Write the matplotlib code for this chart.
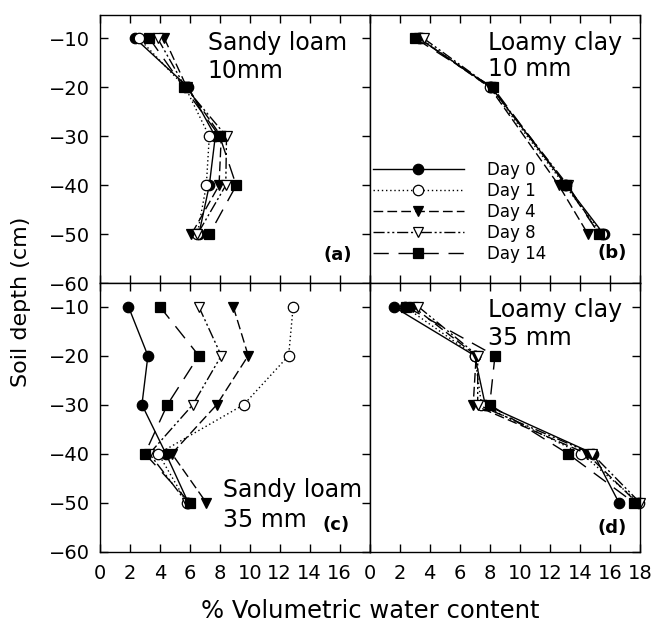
import matplotlib.pyplot as plt
import numpy as np

plt.rcParams['font.family'] = ['DejaVu Sans']

days = ["Day 0", "Day 1", "Day 4", "Day 8", "Day 14"]
depth = [-10, -20, -30, -40, -50]
depth_b = [-10, -20, -40, -50]

# Sandy loam, 10mm.
a_day0 = [2.35, 5.9, 7.7, 7.3, 6.6]
a_day1 = [2.6, 5.7, 7.3, 7.1, 6.5]
a_day4 = [4.3, 5.8, 8.1, 7.95, 6.1]
a_day8 = [3.85, 5.7, 8.45, 8.4, 6.5]
a_day14 = [3.3, 5.6, 8.0, 9.1, 7.3]

# Loamy clay, 10 mm (no -30 cm reading).
b_day0 = [3.3, 8.1, 13.1, 15.6]
b_day1 = [3.4, 8.0, 13.0, 15.5]
b_day4 = [3.3, 8.0, 12.6, 14.55]
b_day8 = [3.6, 8.1, 13.2, 15.3]
b_day14 = [3.05, 8.2, 13.1, 15.3]

# Sandy loam, 35 mm.
c_day0 = [1.9, 3.2, 2.8, 4.4, 5.9]
c_day1 = [12.9, 12.6, 9.6, 3.9, 5.8]
c_day4 = [8.9, 9.9, 7.8, 4.8, 7.1]
c_day8 = [6.6, 8.1, 6.2, 3.3, 5.8]
c_day14 = [4.0, 6.6, 4.5, 3.0, 6.0]

# Loamy clay, 35 mm.
d_day0 = [1.6, 7.0, 7.7, 14.9, 16.6]
d_day1 = [2.35, 7.0, 7.45, 14.1, 17.95]
d_day4 = [2.9, 7.1, 6.9, 14.45, 17.8]
d_day8 = [3.25, 7.2, 7.2, 14.8, 18.0]
d_day14 = [2.45, 8.35, 8.0, 13.2, 17.6]

x_ticks = [0, 2, 4, 6, 8, 10, 12, 14, 16, 18]
y_ticks = [-10, -20, -30, -40, -50, -60]

# Line / marker style per day.
styles = [
    dict(marker='o', mfc='black', dashes=()),
    dict(marker='o', mfc='white', dashes=(1, 2)),
    dict(marker='v', mfc='black', dashes=(7, 3)),
    dict(marker='v', mfc='white', dashes=(8, 2, 1.5, 2, 1.5, 2)),
    dict(marker='s', mfc='black', dashes=(11, 7)),
]

fig = plt.figure(figsize=(6.52, 6.32), dpi=100)

L, W1 = 100 / 652, 269.5 / 652
R, W2 = 369.5 / 652, 270.5 / 652
B, H = 80.3 / 632, 268.3 / 632

ax_a = fig.add_axes([L, B + H, W1, H])
ax_b = fig.add_axes([R, B + H, W2, H])
ax_c = fig.add_axes([L, B, W1, H])
ax_d = fig.add_axes([R, B, W2, H])

panels = [
    (ax_a, depth, [a_day0, a_day1, a_day4, a_day8, a_day14]),
    (ax_b, depth_b, [b_day0, b_day1, b_day4, b_day8, b_day14]),
    (ax_c, depth, [c_day0, c_day1, c_day4, c_day8, c_day14]),
    (ax_d, depth, [d_day0, d_day1, d_day4, d_day8, d_day14]),
]

for ax, dep, series in panels:
    for vals, st, name in zip(series, styles, days):
        line, = ax.plot(vals, dep, color='black', linewidth=1.0,
                        marker=st['marker'], markersize=7.5,
                        markerfacecolor=st['mfc'], markeredgecolor='black',
                        markeredgewidth=0.9, label=name, clip_on=False)
        if st['dashes']:
            line.set_dashes(st['dashes'])
    ax.set_xlim(0, 18)
    ax.set_ylim(-60, -5.25)
    ax.set_xticks(x_ticks)
    ax.set_yticks(y_ticks)
    for sp in ax.spines.values():
        sp.set_linewidth(1.0)
    ax.tick_params(direction='in', length=6, width=1.0, top=True, right=True,
                   labelsize=14)
    ax.tick_params(axis='x', pad=9)
    ax.tick_params(axis='y', pad=7)

# Only the outer panels carry tick labels.
ax_a.tick_params(labelbottom=False)
ax_b.tick_params(labelbottom=False, labelleft=False, left=False)
ax_d.tick_params(labelleft=False, left=False)
ax_c.set_xticklabels([str(t) for t in x_ticks[:-1]] + [""])

# Soil / rainfall captions, one text per line.
cap = dict(fontsize=17, ha='left', va='baseline')
ax_a.text(0.40, 0.870, "Sandy loam", transform=ax_a.transAxes, **cap)
ax_a.text(0.40, 0.765, "10mm", transform=ax_a.transAxes, **cap)
ax_b.text(0.438, 0.870, "Loamy clay", transform=ax_b.transAxes, **cap)
ax_b.text(0.438, 0.773, "10 mm", transform=ax_b.transAxes, **cap)
ax_c.text(0.456, 0.204, "Sandy loam", transform=ax_c.transAxes, **cap)
ax_c.text(0.456, 0.092, "35 mm", transform=ax_c.transAxes, **cap)
ax_d.text(0.438, 0.875, "Loamy clay", transform=ax_d.transAxes, **cap)
ax_d.text(0.438, 0.771, "35 mm", transform=ax_d.transAxes, **cap)

lab = dict(fontsize=13, fontweight='bold', ha='right', va='baseline')
ax_a.text(0.935, 0.087, "(a)", transform=ax_a.transAxes, **lab)
ax_b.text(0.952, 0.094, "(b)", transform=ax_b.transAxes, **lab)
ax_c.text(0.928, 0.081, "(c)", transform=ax_c.transAxes, **lab)
ax_d.text(0.952, 0.070, "(d)", transform=ax_d.transAxes, **lab)

ax_b.legend(loc='lower left', bbox_to_anchor=(0.0, 0.065), frameon=False,
            fontsize=12, handlelength=5.45, handletextpad=1.4,
            labelspacing=0.17, borderpad=0.2, borderaxespad=0.0)

fig.text(0.5675, 1 - 611 / 632, "% Volumetric water content", fontsize=17.5,
         ha='center', va='center')
fig.text(0.032, 1 - 302 / 632, "Soil depth (cm)", fontsize=16,
         rotation=90, ha='center', va='center')

fig.savefig("out.png", dpi=100)
